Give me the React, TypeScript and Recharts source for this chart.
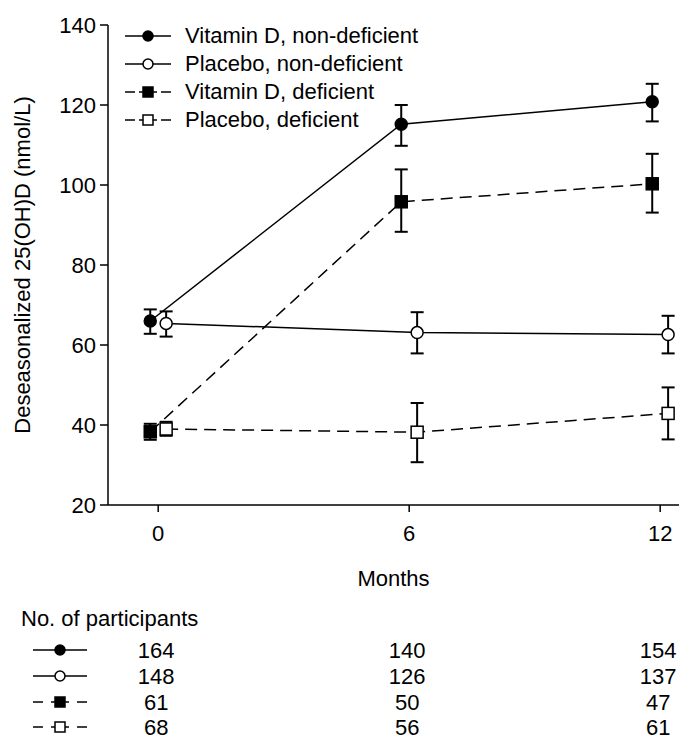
import { LineChart, Line, XAxis, YAxis, ErrorBar, Legend } from "recharts";

const FONT = "'Liberation Sans', Arial, sans-serif";
const FS = 22;

const months = [0, 6, 12];
const yTicks = [20, 40, 60, 80, 100, 120, 140];

// means and 95% CI bounds
const vitDNonDefMean = [66.0, 115.2, 120.8];
const vitDNonDefLow = [62.8, 109.8, 115.9];
const vitDNonDefHigh = [68.9, 120.0, 125.3];

const placeboNonDefMean = [65.4, 63.1, 62.6];
const placeboNonDefLow = [62.1, 57.9, 57.9];
const placeboNonDefHigh = [68.4, 68.2, 67.3];

const vitDDefMean = [38.3, 95.8, 100.3];
const vitDDefLow = [36.3, 88.3, 93.1];
const vitDDefHigh = [40.3, 103.9, 107.8];

const placeboDefMean = [39.0, 38.2, 42.9];
const placeboDefLow = [37.3, 30.7, 36.4];
const placeboDefHigh = [40.8, 45.5, 49.4];

// no. of participants
const vitDNonDefN = [164, 140, 154];
const placeboNonDefN = [148, 126, 137];
const vitDDefN = [61, 50, 47];
const placeboDefN = [68, 56, 61];

type Series = {
  name: string;
  mean: number[];
  low: number[];
  high: number[];
  n: number[];
  shape: "circle" | "square";
  filled: boolean;
  dashed: boolean;
  shift: number;
};

const series: Series[] = [
  { name: "Vitamin D, non-deficient", mean: vitDNonDefMean, low: vitDNonDefLow, high: vitDNonDefHigh, n: vitDNonDefN, shape: "circle", filled: true, dashed: false, shift: -0.19 },
  { name: "Placebo, non-deficient", mean: placeboNonDefMean, low: placeboNonDefLow, high: placeboNonDefHigh, n: placeboNonDefN, shape: "circle", filled: false, dashed: false, shift: 0.19 },
  { name: "Vitamin D, deficient", mean: vitDDefMean, low: vitDDefLow, high: vitDDefHigh, n: vitDDefN, shape: "square", filled: true, dashed: true, shift: -0.19 },
  { name: "Placebo, deficient", mean: placeboDefMean, low: placeboDefLow, high: placeboDefHigh, n: placeboDefN, shape: "square", filled: false, dashed: true, shift: 0.19 },
];

const toPoints = (s: Series) =>
  months.map((m, i) => ({
    x: m + s.shift,
    y: s.mean[i],
    err: [s.mean[i] - s.low[i], s.high[i] - s.mean[i]],
  }));

// one entry per month, used by the table rows (ticks only)
const tableRows = months.map((m) => ({ x: m, y: 20 }));

const X_DOMAIN = [-1.2, 12.45];

function Marker({ cx, cy, s, size }: { cx: number; cy: number; s: Series; size: number }) {
  const fill = s.filled ? "#000" : "#fff";
  if (s.shape === "circle") {
    return <circle cx={cx} cy={cy} r={size / 2} fill={fill} stroke="#000" strokeWidth={1.5} />;
  }
  return (
    <rect x={cx - size / 2} y={cy - size / 2} width={size} height={size} fill={fill} stroke="#000" strokeWidth={1.5} />
  );
}

// little line+marker sample used in the legend and the table
function Symbol({ cx, cy, x0, x1, s }: { cx: number; cy: number; x0: number; x1: number; s: Series }) {
  return (
    <g>
      {s.dashed ? (
        <>
          <line x1={x0} y1={cy} x2={x0 + 10} y2={cy} stroke="#000" strokeWidth={1.5} />
          <line x1={cx - 9} y1={cy} x2={cx + 9} y2={cy} stroke="#000" strokeWidth={1.5} />
          <line x1={x1 - 10} y1={cy} x2={x1} y2={cy} stroke="#000" strokeWidth={1.5} />
        </>
      ) : (
        <line x1={x0} y1={cy} x2={x1} y2={cy} stroke="#000" strokeWidth={1.5} />
      )}
      <Marker cx={cx} cy={cy} s={s} size={10} />
    </g>
  );
}

function LegendBox() {
  return (
    <div style={{ fontFamily: FONT, fontSize: FS, color: "#000" }}>
      {series.map((s) => (
        <div key={s.name} style={{ display: "flex", alignItems: "center", height: 28 }}>
          <svg width={65} height={28} style={{ display: "block" }}>
            <Symbol cx={28} cy={14} x0={5} x1={51} s={s} />
          </svg>
          <span style={{ whiteSpace: "nowrap", lineHeight: "28px" }}>{s.name}</span>
        </div>
      ))}
    </div>
  );
}

const rowHeights = [64, 26, 26, 24];
const rowCenter = [50, 12, 12, 11];

function RowTick(props: any) {
  const { x, y, payload, row } = props;
  const i = months.indexOf(payload.value);
  const s = series[row];
  const cy = y + rowCenter[row];
  return (
    <g fontFamily={FONT} fontSize={FS} fill="#000">
      {row === 0 && i === 0 && (
        <text x={21} y={y + 18} dominantBaseline="central">
          No. of participants
        </text>
      )}
      {i === 0 && <Symbol cx={60} cy={cy} x0={33} x1={87} s={s} />}
      <text x={x - 2} y={cy} textAnchor="middle" dominantBaseline="central">
        {s.n[i]}
      </text>
    </g>
  );
}

export default function App() {
  return (
    <div style={{ position: "absolute", left: 0, top: 0, width: 679, height: 740, background: "#fff" }}>
      <LineChart width={679} height={740} margin={{ top: 25, right: 0, bottom: 0, left: 0 }}>
        <YAxis
          type="number"
          domain={[20, 140]}
          ticks={yTicks}
          allowDataOverflow
          width={108}
          tickSize={8}
          tickMargin={4}
          axisLine={{ stroke: "#000", strokeWidth: 1.5 }}
          tickLine={{ stroke: "#000", strokeWidth: 1.5 }}
          tick={{ fill: "#000", fontSize: FS, fontFamily: FONT }}
          label={{
            value: "Deseasonalized 25(OH)D (nmol/L)",
            position: "insideLeft",
            content: (p: any) => {
              const vb = p.viewBox || { y: 25, height: 480 };
              const cy = vb.y + vb.height / 2;
              return (
                <text
                  x={22}
                  y={cy}
                  transform={`rotate(-90 22 ${cy})`}
                  textAnchor="middle"
                  dominantBaseline="central"
                  fontSize={FS}
                  fontFamily={FONT}
                  fill="#000"
                >
                  Deseasonalized 25(OH)D (nmol/L)
                </text>
              );
            },
          }}
        />
        <XAxis
          type="number"
          dataKey="x"
          domain={X_DOMAIN}
          ticks={months}
          allowDataOverflow
          height={95}
          tickSize={7}
          tickMargin={13}
          axisLine={{ stroke: "#000", strokeWidth: 1.5 }}
          tickLine={{ stroke: "#000", strokeWidth: 1.5 }}
          tick={{ fill: "#000", fontSize: FS, fontFamily: FONT }}
          label={{ value: "Months", position: "insideBottom", offset: 14, fill: "#000", fontSize: FS, fontFamily: FONT }}
        />
        {series.map((s, row) => (
          <XAxis
            key={`row-${row}`}
            xAxisId={`r${row}`}
            type="number"
            dataKey="x"
            domain={X_DOMAIN}
            ticks={months}
            allowDataOverflow
            height={rowHeights[row]}
            axisLine={false}
            tickLine={false}
            tickSize={0}
            tickMargin={0}
            tick={(p: any) => <RowTick {...p} row={row} />}
          />
        ))}
        <Legend
          layout="vertical"
          align="center"
          verticalAlign="middle"
          wrapperStyle={{ left: 120, top: 22, width: 360 }}
          content={() => <LegendBox />}
        />
        {series.map((s, row) => (
          <Line
            key={`tbl-${row}`}
            xAxisId={`r${row}`}
            data={tableRows}
            dataKey="y"
            stroke="none"
            dot={false}
            activeDot={false}
            legendType="none"
            isAnimationActive={false}
          />
        ))}
        {series.map((s) => (
          <Line
            key={s.name}
            data={toPoints(s)}
            dataKey="y"
            type="linear"
            stroke="#000"
            strokeWidth={1.5}
            strokeDasharray={s.dashed ? "12 7" : undefined}
            isAnimationActive={false}
            dot={(p: any) => <Marker key={`${s.name}-${p.index}`} cx={p.cx} cy={p.cy} s={s} size={12} />}
            activeDot={false}
          >
            <ErrorBar dataKey="err" direction="y" width={6.5} stroke="#000" strokeWidth={2} />
          </Line>
        ))}
      </LineChart>
    </div>
  );
}
